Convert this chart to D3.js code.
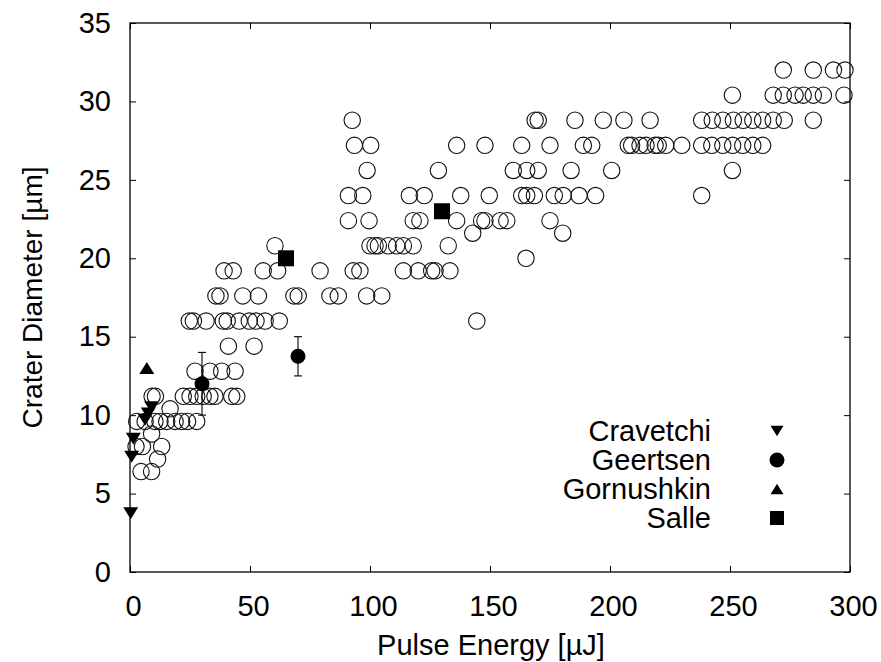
<!DOCTYPE html>
<html>
<head>
<meta charset="utf-8">
<script src="https://cdn.jsdelivr.net/npm/d3@7"></script>
<style>
  body { margin: 0; background: #fff; }
  svg { display: block; font-family: "Liberation Sans", Arial, Helvetica, sans-serif; }
</style>
</head>
<body>
<svg id="chart" width="881" height="662"></svg>
<script>
// Crater diameters (µm) measured in this work, grouped by diameter level,
// with the pulse energies (µJ) at which each level was observed.
const levelDiameter = [32, 30.4, 28.8, 27.2, 25.6, 24, 22.4, 21.6, 20.8, 20, 19.2, 17.6, 16, 14.4, 12.8, 11.2, 10.4, 9.6, 8.8, 8, 7.2, 6.4];
const levelEnergies = [
  [272.2, 284.7, 293.1, 297.9],
  [251, 268, 272.2, 277.1, 280.5, 284.7, 288.9, 297.5],
  [92.6, 168.8, 170.1, 185.4, 197.2, 205.8, 216.7, 238.2, 242.6, 247, 251.4, 255.5, 259.5, 263.6, 268, 272.6, 284.7],
  [93.5, 100.3, 136.1, 147.9, 163.2, 175, 188.9, 192.4, 207.6, 209, 212.5, 215, 218.8, 220.1, 223.2, 229.9, 238.2, 242.4, 247, 251.1, 255.3, 259.5, 263.6],
  [98.8, 128.5, 159.7, 165.3, 170.1, 183.8, 200.7, 251],
  [91, 97, 116.4, 122.6, 137.8, 149.7, 163.2, 165.3, 168.5, 176.8, 180.5, 187.1, 194, 238.2],
  [91, 99.6, 118, 120.8, 136.1, 146.5, 147.9, 154.2, 157, 175],
  [142.8, 180.3],
  [60.4, 100, 102.1, 103.5, 107.6, 111.1, 113.9, 118, 132.6],
  [165],
  [39.2, 43, 55.5, 61.5, 79.2, 93, 95.8, 113.9, 120.1, 125.7, 127.1, 133.3],
  [35.8, 37.5, 47, 53.5, 68.3, 70.1, 83.3, 86.8, 98.6, 104.9],
  [24.7, 26.4, 31.7, 38.9, 40.5, 45.5, 49.7, 52.5, 56.3, 62.2, 144.5],
  [41, 51.7],
  [27.1, 33.3, 38.2, 43.8],
  [9.2, 10.6, 22.2, 25, 27.8, 30.5, 33.3, 35.4, 42.4, 44.5],
  [16.7],
  [2.8, 6.3, 10.4, 12.5, 15.3, 18.8, 21.5, 24, 27.8],
  [9.0],
  [2.5, 5.2, 13.2],
  [11.5],
  [4.6, 9.0]
];

// Literature values
const cravetchiEnergy = [0.3, 0.7, 1.4, 6.3, 7.6, 9.0];
const cravetchiDiameter = [3.75, 7.35, 8.5, 9.7, 10.1, 10.5];
const geertsenEnergy = [30, 70];
const geertsenDiameter = [12, 13.75];
const geertsenError = [2, 1.25];
const gornushkinEnergy = [7];
const gornushkinDiameter = [13];
const salleEnergy = [65, 130];
const salleDiameter = [20, 23];

const legendNames = ["Cravetchi", "Geertsen", "Gornushkin", "Salle"];
const xTicks = [0, 50, 100, 150, 200, 250, 300];
const yTicks = [0, 5, 10, 15, 20, 25, 30, 35];

const svg = d3.select("#chart");
const plotLeft = 130, plotRight = 850, plotTop = 23, plotBottom = 572;
const font = "'Liberation Sans', Arial, sans-serif";

const x = d3.scaleLinear().domain([0, 300]).range([plotLeft, plotRight]);
const y = d3.scaleLinear().domain([0, 35]).range([plotBottom, plotTop]);

// Ticks point inward on all four sides
const tickLen = 6;
const gx = svg.append("g").attr("transform", `translate(0,${plotBottom})`)
  .call(d3.axisBottom(x).tickValues(xTicks).tickSizeInner(-tickLen).tickSizeOuter(0).tickPadding(23));
const gy = svg.append("g").attr("transform", `translate(${plotLeft},0)`)
  .call(d3.axisLeft(y).tickValues(yTicks).tickSizeInner(-tickLen).tickSizeOuter(0).tickPadding(19));
const gxt = svg.append("g").attr("transform", `translate(0,${plotTop})`)
  .call(d3.axisTop(x).tickValues(xTicks).tickSizeInner(-tickLen).tickSizeOuter(0).tickFormat(""));
const gyr = svg.append("g").attr("transform", `translate(${plotRight},0)`)
  .call(d3.axisRight(y).tickValues(yTicks).tickSizeInner(-tickLen).tickSizeOuter(0).tickFormat(""));

[gx, gy, gxt, gyr].forEach(g => {
  g.select(".domain").remove();
  g.selectAll("line").attr("stroke", "#000").attr("stroke-width", 1);
  g.selectAll("text").attr("font-size", 29).attr("fill", "#000").attr("font-family", font);
});
gx.selectAll("text").attr("dx", 3);

svg.append("rect")
  .attr("x", plotLeft).attr("y", plotTop)
  .attr("width", plotRight - plotLeft).attr("height", plotBottom - plotTop)
  .attr("fill", "none").attr("stroke", "#000").attr("stroke-width", 1.3);

// Axis titles
svg.append("text")
  .attr("x", 491).attr("y", 655)
  .attr("text-anchor", "middle").attr("font-size", 29)
  .text("Pulse Energy [\u00b5J]");
svg.append("text")
  .attr("transform", `translate(42,${(plotTop + plotBottom) / 2}) rotate(-90)`)
  .attr("text-anchor", "middle").attr("font-size", 28)
  .text("Crater Diameter [\u00b5m]");

// Open circles: this work
const points = [];
levelDiameter.forEach((d, i) => levelEnergies[i].forEach(e => points.push({ e, d })));

svg.append("g").selectAll("circle").data(points).join("circle")
  .attr("cx", p => x(p.e)).attr("cy", p => y(p.d)).attr("r", 8.2)
  .attr("fill", "none").attr("stroke", "#111").attr("stroke-width", 1.1);

// Error bars
const geertsen = geertsenEnergy.map((e, i) => ({ e, d: geertsenDiameter[i], err: geertsenError[i] }));
const eb = svg.append("g").attr("stroke", "#000").attr("stroke-width", 1.1);
geertsen.forEach(p => {
  eb.append("line").attr("x1", x(p.e)).attr("x2", x(p.e)).attr("y1", y(p.d - p.err)).attr("y2", y(p.d + p.err));
  [p.d - p.err, p.d + p.err].forEach(v =>
    eb.append("line").attr("x1", x(p.e) - 4).attr("x2", x(p.e) + 4).attr("y1", y(v)).attr("y2", y(v)));
});

// Marker shapes
const triDown = s => `M${-s},${-s * 0.8}L${s},${-s * 0.8}L0,${s * 0.8}Z`;
const triUp = s => `M${-s},${s * 0.8}L${s},${s * 0.8}L0,${-s * 0.8}Z`;
const square = s => `M${-s},${-s}L${s},${-s}L${s},${s}L${-s},${s}Z`;

svg.append("g").selectAll("path").data(cravetchiEnergy.map((e, i) => ({ e, d: cravetchiDiameter[i] }))).join("path")
  .attr("transform", p => `translate(${x(p.e)},${y(p.d)})`).attr("d", triDown(7.5)).attr("fill", "#000");
svg.append("g").selectAll("circle").data(geertsen).join("circle")
  .attr("cx", p => x(p.e)).attr("cy", p => y(p.d)).attr("r", 7.5).attr("fill", "#000");
svg.append("g").selectAll("path").data(gornushkinEnergy.map((e, i) => ({ e, d: gornushkinDiameter[i] }))).join("path")
  .attr("transform", p => `translate(${x(p.e)},${y(p.d)})`).attr("d", triUp(7.5)).attr("fill", "#000");
svg.append("g").selectAll("path").data(salleEnergy.map((e, i) => ({ e, d: salleDiameter[i] }))).join("path")
  .attr("transform", p => `translate(${x(p.e)},${y(p.d)})`).attr("d", square(8)).attr("fill", "#000");

// Legend
const legendY = [431, 460, 489, 518];
const lg = svg.append("g");
legendNames.forEach((name, i) => {
  lg.append("text").attr("x", 711).attr("y", legendY[i]).attr("dy", "0.35em")
    .attr("text-anchor", "end").attr("font-size", 29).text(name);
});
lg.append("path").attr("transform", `translate(777,${legendY[0]})`).attr("d", triDown(6.5)).attr("fill", "#000");
lg.append("circle").attr("cx", 777).attr("cy", legendY[1]).attr("r", 7.5).attr("fill", "#000");
lg.append("path").attr("transform", `translate(777,${legendY[2]})`).attr("d", triUp(6.5)).attr("fill", "#000");
lg.append("path").attr("transform", `translate(777,${legendY[3]})`).attr("d", square(7)).attr("fill", "#000");
</script>
</body>
</html>
